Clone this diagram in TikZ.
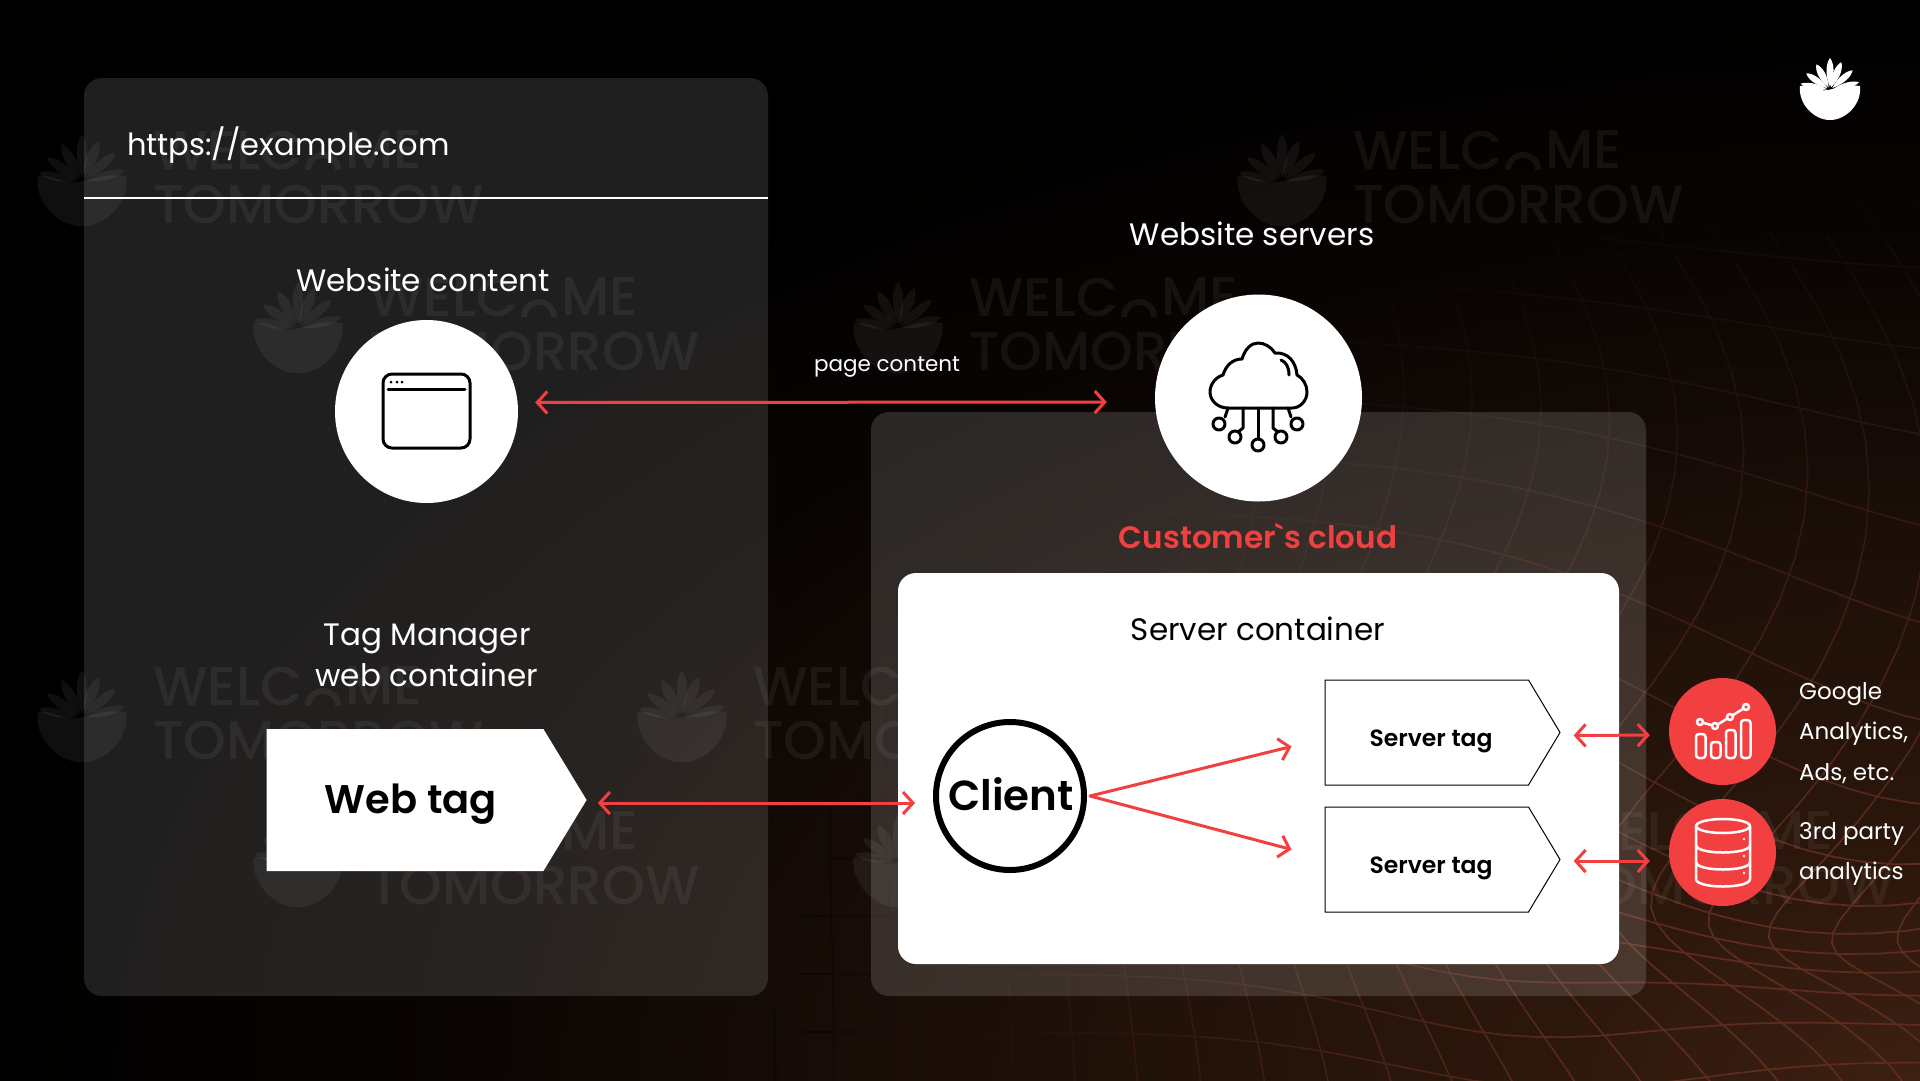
\documentclass[tikz,border=0pt]{standalone}
\usepackage{fontspec}
\setmainfont{Poppins}
\newfontfamily\semib{Poppins SemiBold}
\newfontfamily\medf{Poppins Medium}
\usetikzlibrary{arrows.meta,shapes.symbols}
\definecolor{redc}{HTML}{F24040}
\definecolor{gridc}{HTML}{5E2C1E}
\definecolor{bgA}{HTML}{3D2013}
\definecolor{bgB}{HTML}{2C170C}
\definecolor{bgC}{HTML}{1C0F08}
\definecolor{bgD}{HTML}{0A0503}
\pgfdeclareradialshading{bgrad}{\pgfpointorigin}{color(0bp)=(bgA); color(5bp)=(bgB); color(12.5bp)=(bgC); color(19bp)=(bgD); color(25bp)=(black); color(50bp)=(black)}
\newcommand{\fsz}[1]{\fontsize{#1}{#1}\selectfont}
\tikzset{
  declare function={
    gfx(\u,\v)=\u+0.11*sin(360*(\v-0.19)/0.76)*exp(-((\u-1.8)/0.5)^2);
    gfy(\u,\v)=\v+0.24*exp(-((\u-1.95)/0.38)^2)*exp(-((\v-0.6)/0.3)^2)+0.05*exp(-((\u-1.5)/0.2)^2)*exp(-((\v-1)/0.2)^2);
    gfa(\x,\y)=130*(1-sqrt(((1.92-\x)/1.3)^2+((1.08-\y)/1)^2));
  },
  txt/.style={inner sep=0pt,text=white,font=\fsz{31}},
  small/.style={inner sep=0pt,text=white,font=\fsz{23}},
  rarrow/.style={draw=redc,line width=3pt,line cap=round,
    {Straight Barb[length=10pt,width=22pt,line width=3pt]}-{Straight Barb[length=10pt,width=22pt,line width=3pt]}},
  farrow/.style={draw=redc,line width=3pt,line cap=round,
    -{Straight Barb[length=10pt,width=22pt,line width=3pt]}},
  panel/.style={fill=white,rounded corners=18pt},
  disc/.style={circle,fill=white,minimum size=#1,inner sep=0pt},
  rdisc/.style={circle,fill=redc,minimum size=107pt,inner sep=0pt},
  tagbox/.style={signal,signal to=east,signal from=nowhere,signal pointer angle=#1,inner sep=0pt,fill=white},
  icon/.style={draw=black,line width=3pt,line cap=round,line join=round},
  wicon/.style={draw=white,line width=2.5pt,line cap=round,line join=round},
  wmtext/.style={inner sep=0pt,text=white,text opacity=.06,font=\fsz{54.5}\medf},
  gridln/.style={line width=1.7pt,line cap=round},
}
% one short piece of a grid line, coloured by where it lies
\newcommand{\gseg}[4]{%
  \pgfmathsetmacro{\ga}{int(max(0,min(100,gfa(#1,#2))))}%
  \ifnum\ga>14
    \draw[gridln,color=gridc!\ga!black] (#1,#2) -- (#3,#4);
  \fi}
% logo: origin at the middle of the bowl's rim
\newcommand{\leafp}[3]{%
  \fill[rotate=#1] (0,-3) .. controls (-#3,{-0.5*#2}) and ({-0.7*#3},{-0.85*#2}) .. (0,-#2) .. controls ({0.7*#3},{-0.85*#2}) and (#3,{-0.5*#2}) .. (0,-3) -- cycle;}
\newcommand{\logomark}[4]{%
  \begin{scope}[shift={(#1,#2)},scale=#3,#4]
    \fill (-30,-4) .. controls (-20,-6) and (-14,2) .. (-2,0) .. controls (8,-2) and (16,-6) .. (30,-4)
      .. controls (32,14) and (16,30) .. (0,30) .. controls (-16,30) and (-32,14) .. (-30,-4) -- cycle;
    \leafp{0}{32}{5.5}\leafp{28}{29}{5.5}\leafp{-22}{30}{5.5}\leafp{55}{29}{5}\leafp{-49}{30}{5}\leafp{78}{30}{4.5}\leafp{-75}{30}{4.5}
  \end{scope}}
\newcommand{\wmark}[3]{%
  \logomark{#2}{#3}{1.48}{fill=white,fill opacity=.06}
  \node[wmtext,anchor=west] (#1w) at ({#2+71},{#3-32}) {WELC};
  \node[wmtext,anchor=east] (#1e) at ({#2+340},{#3-32}) {ME};
  \draw[white,opacity=.06,line width=6pt] ({#2+226},{#3-12}) arc[start angle=180,end angle=360,radius=15];
  \node[wmtext,anchor=west] (#1t) at ({#2+71},{#3+22}) {TOMORROW};}
\begin{document}
\begin{tikzpicture}[x=1pt,y=-1pt]
\useasboundingbox (0,0) rectangle (1920,1080);
\begin{scope}
  \clip (0,0) rectangle (1920,1080);
  \shade[shading=bgrad] (0,0) rectangle (3840,2160);
  \begin{scope}[x=1000pt,y=-1000pt]
    \foreach \uu in {0.60,0.658,...,2.2}{
      \foreach \tt in {-0.1,-0.07,...,1.12}{
        \pgfmathsetmacro{\tn}{\tt+0.03}
        \pgfmathsetmacro{\xa}{gfx(\uu,\tt)}\pgfmathsetmacro{\ya}{gfy(\uu,\tt)}
        \pgfmathsetmacro{\xb}{gfx(\uu,\tn)}\pgfmathsetmacro{\yb}{gfy(\uu,\tn)}
        \gseg{\xa}{\ya}{\xb}{\yb}
      }}
    \foreach \vv in {-0.07,-0.012,...,1.2}{
      \foreach \tt in {0.5,0.53,...,2.04}{
        \pgfmathsetmacro{\tn}{\tt+0.03}
        \pgfmathsetmacro{\xa}{gfx(\tt,\vv)}\pgfmathsetmacro{\ya}{gfy(\tt,\vv)}
        \pgfmathsetmacro{\xb}{gfx(\tn,\vv)}\pgfmathsetmacro{\yb}{gfy(\tn,\vv)}
        \gseg{\xa}{\ya}{\xb}{\yb}
      }}
  \end{scope}
\end{scope}
% panels
\fill[panel,fill opacity=.12] (84,78) rectangle (768,996);
\fill[panel,fill opacity=.14] (871,412) rectangle (1646,996);
% watermarks
\wmark{wa}{82}{182}
\wmark{wb}{1282}{182}
\wmark{wc}{298}{329}
\wmark{wd}{898}{329}
\wmark{we}{82}{718}
\wmark{wf}{682}{718}
\wmark{wg}{298}{863}
\wmark{wh}{898}{863}
\wmark{wi}{1493}{863}
% top logo
\logomark{1830}{90}{1}{fill=white}
% left panel
\node[inner sep=0pt,text=white,font=\fsz{30.5},anchor=base west] (url) at (127,155) {https://example.com};
\draw[white,line width=2pt] (84,198) -- (768,198);
\node[txt] (sitelabel) at (423,280) {Website content};
\node[disc=183pt] (site) at (426.5,411.5) {};
\node[txt,align=center] (gtmlabel) at (427,655) {Tag Manager\\[8pt]web container};
\node[tagbox=117.4,minimum width=320pt,minimum height=142pt] (webtag) at (405,800) {};
\node[inner sep=0pt,text=black,font=\fsz{40}\semib] (webtaglabel) at (411,804) {Web tag};
% browser icon
\draw[icon,rounded corners=9pt] (383,374) rectangle (470,448);
\draw[icon] (388,389) -- (465,389);
\fill (391,382) circle (1.5) (397,382) circle (1.5) (402,382) circle (1.5);
% right
\node[txt] (cloudlabel) at (1252,234) {Website servers};
\node[inner sep=0pt,text=white,font=\fsz{21.5}] (pagelabel) at (887,367) {page content};
\node[disc=207pt] (cloud) at (1258.5,398) {};
\draw[icon] (1228,408) .. controls (1217,408) and (1210,400) .. (1210,392) .. controls (1210,384) and (1216,377) .. (1223,375)
  .. controls (1226,365) and (1233,359) .. (1242,359) .. controls (1245,349) and (1251,343) .. (1258,343) .. controls (1265,343) and (1271,347) .. (1275,353)
  .. controls (1288,352) and (1296,362) .. (1297,375) .. controls (1303,378) and (1307,385) .. (1307,392) .. controls (1307,401) and (1300,408) .. (1292,408) -- cycle;
\draw[icon] (1281,360) .. controls (1286,362) and (1289,367) .. (1289,375);
\draw[icon] (1258,408) -- (1258,439);
\draw[icon] (1243,408) -- (1243,428) -- (1238,432);
\draw[icon] (1273,408) -- (1273,428) -- (1278,432);
\draw[icon] (1228,408) -- (1225,417);
\draw[icon] (1288,408) -- (1291,417);
\draw[icon] (1258,445) circle (6) (1235,437) circle (6) (1281,437) circle (6) (1219,424) circle (6) (1297,424) circle (6);
\node[inner sep=0pt,text=redc,font=\fsz{31}\semib] (custlabel) at (1258,536) {Customer`s cloud};
\fill[white,rounded corners=18pt] (898,573) rectangle (1619,964);
\node[txt,text=black] (srvlabel) at (1258,629) {Server container};
\node[circle,draw=black,fill=white,line width=6pt,minimum size=148pt,inner sep=0pt] (client) at (1010,796) {};
\node[inner sep=0pt,text=black,font=\fsz{42}\semib] (clientlabel) at (1011,794) {Client};
\node[tagbox=118,draw=black,line width=1pt,minimum width=235pt,minimum height=105pt] (tagA) at (1426.75,732.5) {};
\node[tagbox=118,draw=black,line width=1pt,minimum width=235pt,minimum height=105pt] (tagB) at (1426.75,859.5) {};
\node[inner sep=0pt,text=black,font=\fsz{23.5}\semib] (tagAlabel) at (1431,741) {Server tag};
\node[inner sep=0pt,text=black,font=\fsz{23.5}\semib] (tagBlabel) at (1431,868) {Server tag};
\node[rdisc] (ga) at (1722.5,731.5) {};
\node[rdisc] (db) at (1722.5,852.5) {};
\node[small,anchor=west] (gaA) at (1799,694) {Google};
\node[small,anchor=west] (gaB) at (1799,734) {Analytics,};
\node[small,anchor=west] (gaC) at (1799,774) {Ads, etc.};
\node[small,anchor=west] (dbA) at (1799,834) {3rd party};
\node[small,anchor=west] (dbB) at (1799,874) {analytics};
% chart icon
\foreach \bx/\by in {1696/734,1711/742,1726/730,1741/720}
  \draw[wicon,rounded corners=3pt] (\bx,\by) rectangle (\bx+9.5,758);
\draw[wicon] (1700,722) -- (1715,726) -- (1730,717) -- (1746,707);
\foreach \px/\py in {1700/722,1715/726,1730/717,1746/707}
  \draw[wicon,fill=redc] (\px,\py) circle (3);
% database icon
\draw[wicon] (1723,826) ellipse [x radius=27,y radius=7];
\draw[wicon] (1696,826) -- (1696,879) .. controls (1696,889) and (1750,889) .. (1750,879) -- (1750,826);
\draw[wicon] (1696,845) .. controls (1696,855) and (1750,855) .. (1750,845);
\draw[wicon] (1696,862) .. controls (1696,872) and (1750,872) .. (1750,862);
\fill[white] (1744,839) circle (1.3) (1744,856) circle (1.3) (1744,873) circle (1.3);
% connectors
\draw[rarrow,shorten <=17pt,shorten >=48pt] ([yshift=9pt]site.east) -- ([yshift=-4pt]cloud.west);
\draw[rarrow,shorten <=11pt,shorten >=18pt] ([yshift=-3pt]webtag.east) -- ([yshift=-7pt]client.west);
\draw[farrow] ([xshift=3pt]client.east) -- ([xshift=-33pt,yshift=-14pt]tagA.west);
\draw[farrow] ([xshift=3pt]client.east) -- ([xshift=-33pt,yshift=10pt]tagB.west);
\draw[rarrow,shorten <=13pt,shorten >=19pt] ([yshift=-3pt]tagA.east) -- ([yshift=-3.5pt]ga.west);
\draw[rarrow,shorten <=13pt,shorten >=19pt] ([yshift=-1.5pt]tagB.east) -- ([yshift=-8.5pt]db.west);
\end{tikzpicture}
\end{document}
